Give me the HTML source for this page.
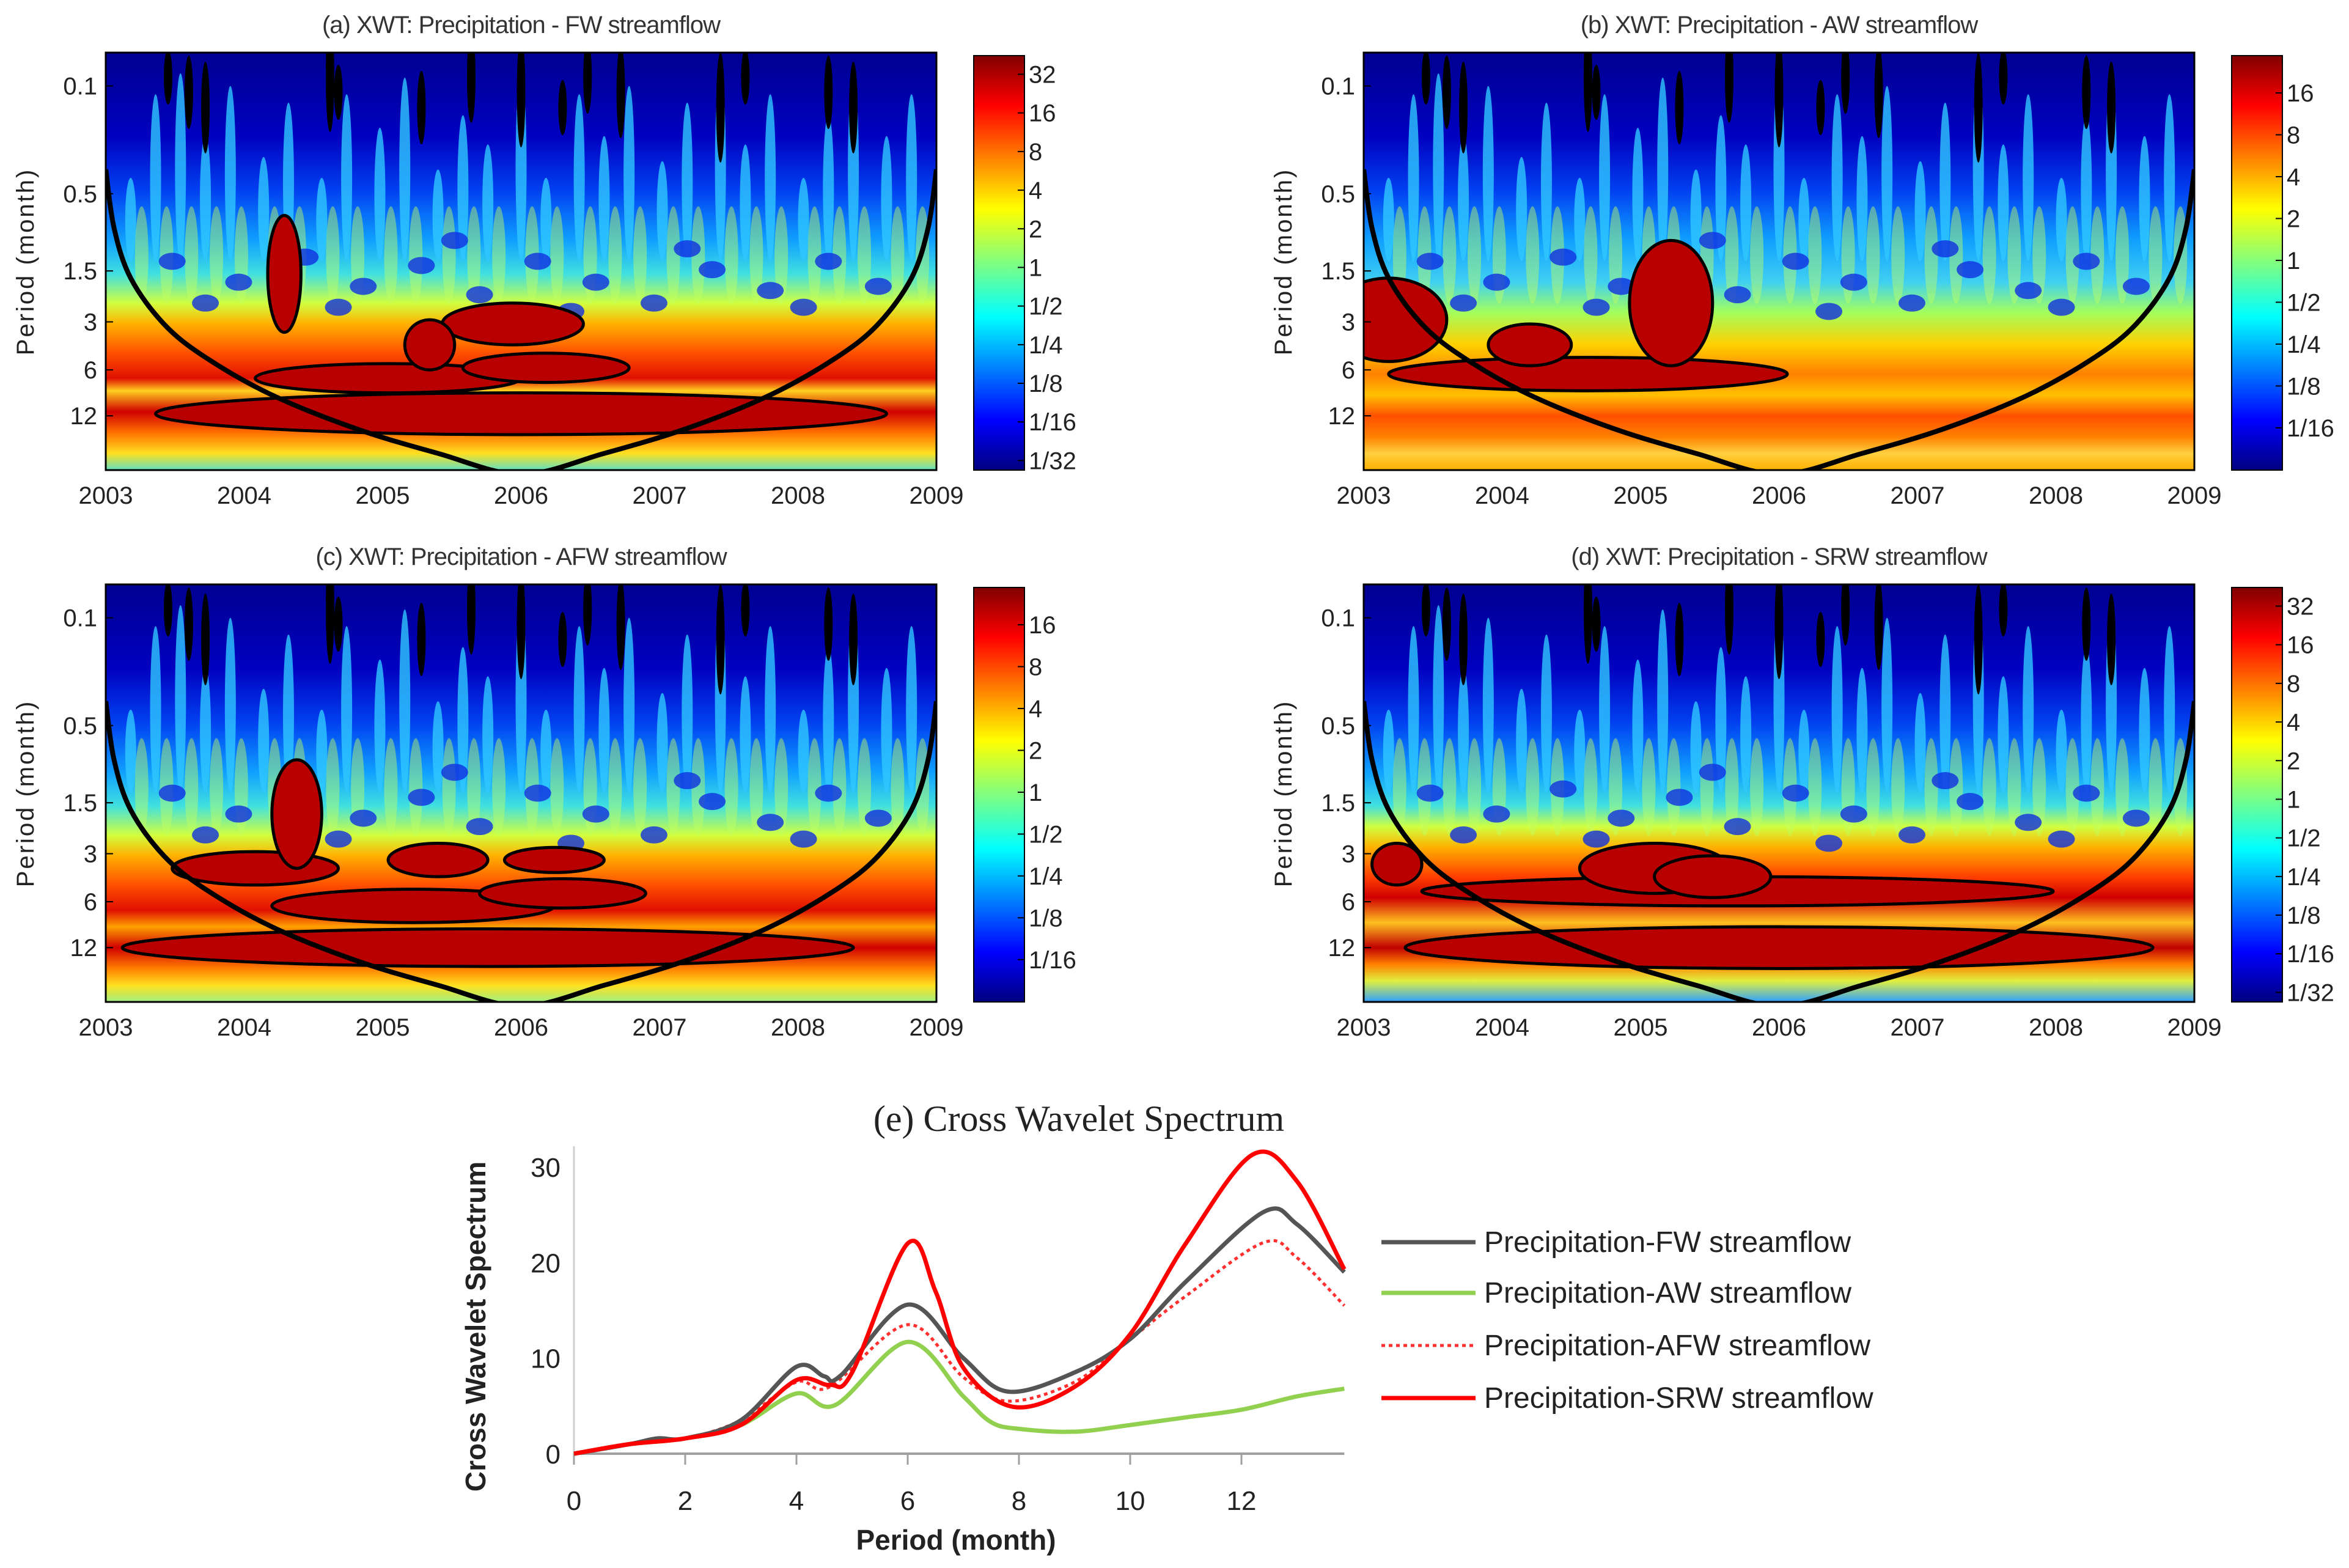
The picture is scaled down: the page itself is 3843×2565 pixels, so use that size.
<!DOCTYPE html>
<html><head><meta charset="utf-8">
<style>
html,body{margin:0;padding:0;background:#fff;}
svg{display:block;}
</style></head>
<body>
<svg id="root" width="3843" height="2565" viewBox="0 0 3843 2565" xmlns="http://www.w3.org/2000/svg" font-family="Liberation Sans, sans-serif">
<defs>
<linearGradient id="jet" x1="0" y1="0" x2="0" y2="1">
<stop offset="0" stop-color="#800000"/><stop offset="0.12" stop-color="#ff0000"/>
<stop offset="0.37" stop-color="#ffff00"/><stop offset="0.5" stop-color="#80ff80"/>
<stop offset="0.63" stop-color="#00ffff"/><stop offset="0.88" stop-color="#0000ff"/>
<stop offset="1" stop-color="#000080"/>
</linearGradient>
<linearGradient id="gA" x1="0" y1="0" x2="0" y2="1">
<stop offset="0" stop-color="#000090"/><stop offset="0.2" stop-color="#0000c0"/><stop offset="0.33" stop-color="#0040f0"/>
<stop offset="0.45" stop-color="#10a0ff"/><stop offset="0.53" stop-color="#40e0e0"/><stop offset="0.6" stop-color="#d0ff40"/>
<stop offset="0.65" stop-color="#ffb000"/><stop offset="0.72" stop-color="#ff5000"/><stop offset="0.78" stop-color="#e01000"/>
<stop offset="0.81" stop-color="#ffd020"/><stop offset="0.86" stop-color="#d00000"/><stop offset="0.91" stop-color="#ff7000"/>
<stop offset="0.96" stop-color="#ffe020"/><stop offset="1" stop-color="#60e0c0"/>
</linearGradient>
<linearGradient id="gB" x1="0" y1="0" x2="0" y2="1">
<stop offset="0" stop-color="#000090"/><stop offset="0.2" stop-color="#0000c0"/><stop offset="0.33" stop-color="#0040f0"/>
<stop offset="0.45" stop-color="#10a0ff"/><stop offset="0.55" stop-color="#40d0f0"/><stop offset="0.62" stop-color="#a0ff60"/>
<stop offset="0.7" stop-color="#ffd000"/><stop offset="0.77" stop-color="#ff8000"/><stop offset="0.82" stop-color="#ffc000"/>
<stop offset="0.87" stop-color="#ff5000"/><stop offset="0.92" stop-color="#ff8000"/><stop offset="0.96" stop-color="#ffd040"/>
<stop offset="1" stop-color="#ffb000"/>
</linearGradient>
<linearGradient id="gC" x1="0" y1="0" x2="0" y2="1">
<stop offset="0" stop-color="#000090"/><stop offset="0.2" stop-color="#0000c0"/><stop offset="0.33" stop-color="#0040f0"/>
<stop offset="0.45" stop-color="#10a0ff"/><stop offset="0.53" stop-color="#40e0e0"/><stop offset="0.6" stop-color="#d0ff40"/>
<stop offset="0.65" stop-color="#ffb000"/><stop offset="0.72" stop-color="#ff5000"/><stop offset="0.78" stop-color="#e01000"/>
<stop offset="0.82" stop-color="#ffa000"/><stop offset="0.87" stop-color="#d00000"/><stop offset="0.92" stop-color="#ff8000"/>
<stop offset="0.96" stop-color="#ffe020"/><stop offset="1" stop-color="#a0f080"/>
</linearGradient>
<linearGradient id="gD" x1="0" y1="0" x2="0" y2="1">
<stop offset="0" stop-color="#000090"/><stop offset="0.2" stop-color="#0000c0"/><stop offset="0.33" stop-color="#0040f0"/>
<stop offset="0.45" stop-color="#10a0ff"/><stop offset="0.53" stop-color="#40e0e0"/><stop offset="0.58" stop-color="#d0ff40"/>
<stop offset="0.63" stop-color="#ffb000"/><stop offset="0.7" stop-color="#ff4000"/><stop offset="0.75" stop-color="#d00000"/>
<stop offset="0.81" stop-color="#ffc020"/><stop offset="0.87" stop-color="#c00000"/><stop offset="0.91" stop-color="#ff8000"/>
<stop offset="0.95" stop-color="#e0f040"/><stop offset="1" stop-color="#30a0ff"/>
</linearGradient>
</defs>
<g id="panels"></g>
<g id="linechart"></g>
</svg>
<script>
const NS="http://www.w3.org/2000/svg";
function mk(tag,attrs,parent){const e=document.createElementNS(NS,tag);for(const k in attrs)e.setAttribute(k,attrs[k]);if(parent)parent.appendChild(e);return e;}

// ---------- wavelet panels ----------
const panelTitles=["(a) XWT: Precipitation - FW streamflow","(b) XWT: Precipitation - AW streamflow","(c) XWT: Precipitation - AFW streamflow","(d) XWT: Precipitation - SRW streamflow"];
const yearLabels=["2003","2004","2005","2006","2007","2008","2009"];
const periodLabels=["0.1","0.5","1.5","3","6","12"];
const periodFrac=[0.08,0.338,0.523,0.645,0.76,0.87];
const cbLabelsAD=["32","16","8","4","2","1","1/2","1/4","1/8","1/16","1/32"];
const cbLabelsBC=["16","8","4","2","1","1/2","1/4","1/8","1/16"];
const spikeX=[0.03,0.06,0.09,0.12,0.15,0.19,0.22,0.26,0.29,0.33,0.36,0.4,0.43,0.46,0.5,0.53,0.57,0.6,0.63,0.67,0.7,0.74,0.77,0.8,0.84,0.87,0.9,0.94,0.97];
const spikeTop=[0.3,0.1,0.05,0.2,0.08,0.25,0.12,0.3,0.1,0.18,0.06,0.28,0.15,0.22,0.05,0.3,0.1,0.2,0.08,0.26,0.12,0.05,0.22,0.1,0.3,0.15,0.06,0.2,0.1];
const blackX=[0.075,0.1,0.12,0.27,0.28,0.38,0.44,0.5,0.55,0.58,0.62,0.74,0.77,0.87,0.9];
const dotX=[0.08,0.16,0.24,0.31,0.38,0.45,0.52,0.59,0.66,0.73,0.8,0.87,0.93,0.12,0.28,0.42,0.56,0.7,0.84];
const dotY=[0.5,0.55,0.49,0.56,0.51,0.58,0.5,0.55,0.6,0.52,0.57,0.5,0.56,0.6,0.61,0.45,0.62,0.47,0.61];
const blobsA=[[0.5,0.865,0.44,0.05],[0.34,0.78,0.16,0.035],[0.53,0.755,0.1,0.035],[0.49,0.65,0.085,0.05],[0.215,0.53,0.02,0.14],[0.39,0.7,0.03,0.06]];
const blobsB=[[0.27,0.77,0.24,0.04],[0.37,0.6,0.05,0.15],[0.03,0.64,0.07,0.1],[0.2,0.7,0.05,0.05]];
const blobsC=[[0.46,0.87,0.44,0.045],[0.37,0.77,0.17,0.04],[0.55,0.74,0.1,0.035],[0.18,0.68,0.1,0.04],[0.23,0.55,0.03,0.13],[0.4,0.66,0.06,0.04],[0.54,0.66,0.06,0.03]];
const blobsD=[[0.5,0.87,0.45,0.05],[0.45,0.735,0.38,0.035],[0.35,0.68,0.09,0.06],[0.42,0.7,0.07,0.05],[0.04,0.67,0.03,0.05]];
const panels=[
 {x:173,y:86,grad:"gA",blobs:blobsA,cb:cbLabelsAD,name:"a"},
 {x:2231,y:86,grad:"gB",blobs:blobsB,cb:cbLabelsBC,name:"b"},
 {x:173,y:956,grad:"gC",blobs:blobsC,cb:cbLabelsBC,name:"c"},
 {x:2231,y:956,grad:"gD",blobs:blobsD,cb:cbLabelsAD,name:"d"}];
const PW=1359,PH=683;
const coi=[[0,0.28],[0.01,0.42],[0.03,0.54],[0.07,0.65],[0.12,0.73],[0.2,0.82],[0.3,0.9],[0.4,0.96],[0.5,1.01],[0.6,0.96],[0.7,0.9],[0.8,0.82],[0.88,0.73],[0.93,0.65],[0.97,0.54],[0.99,0.42],[1,0.28]];

function cr(P){let d='M'+P[0][0]+','+P[0][1];
 for(let i=0;i<P.length-1;i++){const p0=P[Math.max(i-1,0)],p1=P[i],p2=P[i+1],p3=P[Math.min(i+2,P.length-1)];
  d+='C'+(p1[0]+(p2[0]-p0[0])/6)+','+(p1[1]+(p2[1]-p0[1])/6)+' '+(p2[0]-(p3[0]-p1[0])/6)+','+(p2[1]-(p3[1]-p1[1])/6)+' '+p2[0]+','+p2[1];}
 return d;}

const root=document.getElementById('panels');
panels.forEach((p,i)=>{
 const g=mk('g',{},root);
 
 
 const cid='clip'+i;
 const cp=mk('clipPath',{id:cid},g);mk('rect',{x:p.x,y:p.y,width:PW,height:PH},cp);
 const pl=mk('g',{'clip-path':'url(#'+cid+')'},g);
 const bg=mk('rect',{x:p.x,y:p.y,width:PW,height:PH,fill:'url(#'+p.grad+')'},pl);
 
 
 spikeX.forEach((sx,k)=>{
  const cx=p.x+sx*PW, top=spikeTop[k]*PH, bot=0.5*PH;
  const s=mk('ellipse',{cx:cx,cy:p.y+(top+bot)/2,rx:9,ry:(bot-top)/2,fill:'#30c8ff',opacity:0.8},pl);
  
  
  const s2=mk('ellipse',{cx:cx+18,cy:p.y+bot-10,rx:11,ry:80,fill:'#c0ff60',opacity:0.45},pl);
  
  
 });
 dotX.forEach((dx,k)=>{
  const d=mk('ellipse',{cx:p.x+dx*PW,cy:p.y+dotY[k]*PH,rx:22,ry:14,fill:'#1030e0',opacity:0.8},pl);
  
  
 });
 blackX.forEach((bx,k)=>{
  const b=mk('ellipse',{cx:p.x+bx*PW,cy:p.y+40+(k%3)*25,rx:7,ry:45+(k%4)*15,fill:'#000'},pl);
  
  
 });
 p.blobs.forEach(b=>{
  const e=mk('ellipse',{cx:p.x+b[0]*PW,cy:p.y+b[1]*PH,rx:b[2]*PW,ry:b[3]*PH,fill:'#b80000',stroke:'#000','stroke-width':5},pl);
  
  
 });
 const co=mk('path',{d:cr(coi.map(c=>[p.x+c[0]*PW,p.y+c[1]*PH])),fill:'none',stroke:'#000','stroke-width':8,'stroke-linejoin':'round'},pl);
 
 
 mk('rect',{x:p.x,y:p.y,width:PW,height:PH,fill:'none',stroke:'#000','stroke-width':3},g);
 const t=mk('text',{x:p.x+PW/2,y:p.y-32,'text-anchor':'middle','font-size':40,fill:'#333','letter-spacing':'-1'},g);
 t.textContent=panelTitles[i];
 
 
 yearLabels.forEach((yl,k)=>{
  const tx=mk('text',{x:p.x+k*PW/6,y:p.y+PH+55,'text-anchor':'middle','font-size':40,fill:'#222'},g);
  tx.textContent=yl;
  
  
 });
 periodLabels.forEach((pl2,k)=>{
  const ty=p.y+periodFrac[k]*PH;
  mk('line',{x1:p.x,x2:p.x+12,y1:ty,y2:ty,stroke:'#000','stroke-width':2},g);
  const tx=mk('text',{x:p.x-14,y:ty+14,'text-anchor':'end','font-size':40,fill:'#222'},g);
  tx.textContent=pl2;
  
  
 });
 const yt=mk('text',{x:0,y:0,'text-anchor':'middle','font-size':40,fill:'#222','letter-spacing':'3',transform:'translate('+(p.x-118)+','+(p.y+342)+') rotate(-90)'},g);
 yt.textContent='Period (month)';
 
 
 const cbx=p.x+1420, cby=p.y+5, cbh=678;
 const cb=mk('rect',{x:cbx,y:cby,width:83,height:cbh,fill:'url(#jet)',stroke:'#000','stroke-width':2},g);
 
 
 const n=p.cb.length, start=(n===11?0.045:0.09), step=(n===11?0.0932:0.101);
 p.cb.forEach((lb,k)=>{
  const ly=cby+(start+k*step)*cbh;
  mk('line',{x1:cbx+72,x2:cbx+83,y1:ly,y2:ly,stroke:'#000','stroke-width':2},g);
  const tx=mk('text',{x:cbx+90,y:ly+14,'font-size':40,fill:'#222'},g);
  tx.textContent=lb;
  
  
 });
});

// ---------- line chart (e) ----------
const seriesNames=["Precipitation-FW streamflow","Precipitation-AW streamflow","Precipitation-AFW streamflow","Precipitation-SRW streamflow"];
const fwX=[0,1,1.5,2,3,4,4.5,4.8,6,7,7.8,9,10,11,12.4,13,13.85];
const fwY=[0,1,1.6,1.6,3.5,9.1,8.1,8.2,15.6,10,6.5,8.5,12,18,25.3,24,19];
const awX=[0,1,2,3,4,4.7,6,7,7.5,8,9,10,11,12,13,13.85];
const awY=[0,1,1.6,3,6.3,5.1,11.7,6,3.3,2.6,2.3,3,3.8,4.6,6,6.8];
const afwX=[0,1,2,3,4,4.6,6,7,7.8,9,10,11,12.4,13,13.85];
const afwY=[0,1,1.6,3.5,7.5,7,13.5,8,5.5,7.5,12,16.5,22.1,20.5,15.5];
const srwX=[0,1,2,3,4,4.6,5,6,6.5,7,7.9,9,10,11,12.2,13,13.85];
const srwY=[0,1,1.6,3,7.7,7.2,8.5,22,17,9,4.9,7,12.5,22,31.3,28.5,19.3];
const xTicks=[0,2,4,6,8,10,12];
const yTicks=[0,10,20,30];
const X0=939,XU=91.0,Y0=2378,YU=15.63;
const sx=v=>X0+v*XU, sy=v=>Y0-v*YU;
const lc=document.getElementById('linechart');
mk('line',{x1:X0,x2:X0,y1:1875,y2:Y0,stroke:'#d0d0d0','stroke-width':3},lc);
const xa=mk('line',{x1:X0,x2:sx(13.85),y1:Y0,y2:Y0,stroke:'#a0a0a0','stroke-width':4},lc);


xTicks.forEach(v=>{
 mk('line',{x1:sx(v),x2:sx(v),y1:Y0,y2:Y0+18,stroke:'#a0a0a0','stroke-width':3},lc);
 const t=mk('text',{x:sx(v),y:Y0+92,'text-anchor':'middle','font-size':44,fill:'#222'},lc);
 t.textContent=v;
 
 
});
yTicks.forEach(v=>{
 const t=mk('text',{x:X0-22,y:sy(v)+16,'text-anchor':'end','font-size':44,fill:'#222'},lc);
 t.textContent=v;
 
 
});
const styles=[{c:'#555555',w:7,dash:''},{c:'#92d050',w:7,dash:''},{c:'#ff3030',w:5,dash:'6 6'},{c:'#ff0000',w:7,dash:''}];
const allX=[fwX,awX,afwX,srwX], allY=[fwY,awY,afwY,srwY];
const order=[1,2,0,3];
order.forEach(k=>{
 const P=allX[k].map((x,i)=>[sx(x),sy(allY[k][i])]);
 const s=mk('path',{d:cr(P),fill:'none',stroke:styles[k].c,'stroke-width':styles[k].w,'stroke-dasharray':styles[k].dash},lc);
 
 
});
const legY=[2032,2115,2201,2287];
seriesNames.forEach((n,k)=>{
 const lg=mk('g',{},lc);
 
 
 mk('line',{x1:2260,x2:2414,y1:legY[k],y2:legY[k],stroke:styles[k].c,'stroke-width':styles[k].w,'stroke-dasharray':styles[k].dash},lg);
 const t=mk('text',{x:2428,y:legY[k]+16,'font-size':48,fill:'#222'},lg);
 t.textContent=n;
});
const ti=mk('text',{x:1765,y:1850,'text-anchor':'middle','font-size':60,fill:'#222',style:'font-family:"Liberation Serif",serif'},lc);
ti.textContent='(e) Cross Wavelet Spectrum';


const xt=mk('text',{x:1564,y:2535,'text-anchor':'middle','font-size':46,'font-weight':'bold',fill:'#222'},lc);
xt.textContent='Period (month)';


const yt2=mk('text',{x:0,y:0,'text-anchor':'middle','font-size':46,'font-weight':'bold',fill:'#222',transform:'translate(794,2170) rotate(-90)'},lc);
yt2.textContent='Cross Wavelet Spectrum';


</script>
</body></html>
